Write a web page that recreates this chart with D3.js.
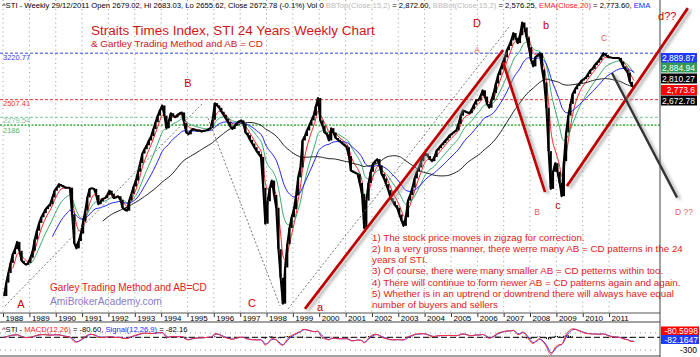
<!DOCTYPE html>
<html><head><meta charset="utf-8">
<script src="https://cdn.jsdelivr.net/npm/d3@7"></script>
<style>body{margin:0;background:#fff}svg{display:block;font-family:"Liberation Sans",Arial,sans-serif}</style>
</head><body><svg id="c" width="700" height="357"></svg>
<script>
// ---------- DATA ----------
const yearLabels = ["1988","1989","1990","1991","1992","1993","1994","1995","1996","1997","1998","1999",
                    "2000","2001","2002","2003","2004","2005","2006","2007","2008","2009","2010","2011"];
// monthly closes of the STI, Jan 1988 .. Dec 2011
const monthlyClose = [
 870, 935, 985,1040,1090,1120,1165,1110,1052,1040,1030,1040,   // 1988
1070,1110,1180,1237,1290,1330,1360,1390,1410,1427,1480,1535,   // 1989
1560,1590,1580,1570,1560,1560,1560,1352,1155,1125,1170,1218,   // 1990
1300,1380,1480,1550,1555,1550,1500,1427,1450,1470,1475,1500,   // 1991
1535,1510,1475,1480,1490,1460,1400,1385,1378,1455,1510,1570,   // 1992
1621,1700,1780,1875,1920,1960,2012,2060,2140,2220,2300,2367,   // 1993
2430,2300,2150,2230,2330,2300,2280,2310,2330,2340,2210,2100,   // 1994
2080,2120,2140,2130,2120,2124,2110,2120,2124,2135,2150,2250,   // 1995
2460,2430,2400,2350,2310,2265,2220,2170,2140,2180,2210,2230,   // 1996
2242,2200,2100,2070,2020,1980,1940,1900,1870,1840,1560,1285,   // 1997
1450,1560,1621,1500,1400,1120, 960, 835,1015,1150,1255,1330,   // 1998
1390,1500,1650,1740,2012,2060,2124,2180,2242,2300,2420,2530,   // 1999
2242,2180,2100,2080,2012,2150,2100,2040,2020,2000,1980,1960,   // 2000
1940,1850,1711,1700,1690,1680,1600,1510,1255,1455,1600,1700,   // 2001
1775,1800,1820,1760,1680,1640,1590,1540,1475,1450,1420,1400,   // 2002
1350,1306,1270,1330,1455,1500,1560,1640,1700,1740,1800,1850,   // 2003
1875,1850,1820,1800,1840,1906,1930,1960,1985,2012,2040,2070,   // 2004
2090,2110,2124,2200,2300,2367,2350,2340,2330,2380,2440,2498,   // 2005
2498,2560,2637,2550,2450,2400,2500,2600,2735,2860,2950,3050,   // 2006
3150,3273,3350,3450,3590,3500,3400,3550,3800,3700,3510,3325,   // 2007
3100,3000,3153,3180,3221,2950,2750,2400,1900,1550,1700,1780,   // 2008
1700,1600,1490,1800,2100,2300,2450,2590,2650,2700,2735,2780,   // 2009
2800,2830,2880,2938,2960,3020,3060,3101,3160,3221,3190,3153,   // 2010
3150,3140,3140,3140,3140,3080,3000,2950,2900,2760,2700,2673    // 2011
];
// horizontal study levels
const levelValues = [3220.77, 2507.41, 2279.54, 2186];
const levelLabels = ["3220.77","2507.41","2279.54","2186"];
const levelColors = ["#3344ee","#ee3333","#77c99a","#55b855"];
// moving averages (weekly periods) and their last values
const maPeriodsWeeks = [20, 50, 100, 200];
const maColors = ["#ff2222","#3aaa6a","#2222ff","#222222"];
const lastValueLabels = ["2,889.87","2,884.94","2,810.27","2,773.6","2,672.78"];
const lastValueColors = ["#1f3bff","#2e9a5c","#000000","#ff0000","#000000"];
const macdLabels = ["-80.5998","-82.1647"];
// drawn study lines: [year, price] -> [year, price]
const dottedLines = [[[1988.08,825],[1995.55,2450]],[[1995.78,2268],[1998.51,825]],[[1998.82,812],[2007.24,3733]]];
const redLines = [[[1999.46,812],[2006.98,3273]],[[2006.98,3067],[2008.57,1523]],[[2009.40,1573],[2013.99,4107]]];
const darkLines = [[[2011.11,2895],[2013.58,1479]]];
// pattern letters: [text, year, price, anchor]
const bigLetters = [["A",1988.68,816,"middle"],["B",1995.02,2686,"middle"],["C",1997.45,820,"middle"],["a",2000.03,803,"middle"],
                    ["D",2005.99,3711,"middle"],["b",2008.61,3672,"middle"],["c",2009.06,1391,"middle"],["d??",2012.86,3855,"start"]];
const smallLetters = [["A",2005.99,3226,"middle"],["C",2010.81,3442,"middle"],["B",2008.27,1347,"middle"],["D ??",2013.50,1347,"start"]];
const notes = ["1) The stock price moves in zigzag for correction.",
 "2) In a very gross manner, there werre many AB = CD patterns in the 24",
 "years of STI.",
 "3) Of course, there were many smaller AB = CD petterns within too.",
 "4) There will continue to form newer AB = CD patterns again and again.",
 "5) Whether is in an uptrend or downtrend there will always have equal",
 "number of buyers and sellers"];

// ---------- LAYOUT ----------
const plotR = 660, priceB = 313, macdT = 322, macdB = 356;
const svg = d3.select("#c");
const defs = svg.append("defs");
defs.append("clipPath").attr("id","pc").append("rect").attr("x",0).attr("y",0).attr("width",plotR).attr("height",priceB);
defs.append("clipPath").attr("id","mc").append("rect").attr("x",0).attr("y",macdT+1).attr("width",plotR).attr("height",macdB-macdT-1);
const flt = defs.append("filter").attr("id","sh").attr("x","-20%").attr("y","-20%").attr("width","140%").attr("height","140%");
flt.append("feDropShadow").attr("dx",3).attr("dy",2).attr("stdDeviation",1.6).attr("flood-color","#999").attr("flood-opacity",0.75);

const x = d3.scaleTime().domain([new Date(1988,0,1), new Date(2012,0,1)]).range([3, 635.4]);
const y = d3.scaleLog().domain([794, 4290]).range([priceB, 0]);
const ym = d3.scaleLinear().domain([-440, 360]).range([macdB, macdT]);
const dates = monthlyClose.map((_, i) => new Date(1988, i, 15));
function yd(yf){ const yr=Math.floor(yf); const s=new Date(yr,0,1), e=new Date(yr+1,0,1); return new Date(+s+(yf-yr)*(e-s)); }
const yearDates = yearLabels.map(s => new Date(+s, 0, 1));

// indicators derived from the closes (weekly periods converted to months)
function ema(arr, n){ const a=2/(n+1); let e=arr[0]; return arr.map((v,i)=> i===0 ? e : (e = a*v+(1-a)*e)); }
function sma(arr, n){ return arr.map((v,i)=> i<n-1 ? null : d3.mean(arr.slice(i-n+1, i+1))); }
const wk = 52/12;
const mas = maPeriodsWeeks.map((p,k) => {
  const n = p/wk, start = Math.round(n);
  const s = k===3 ? sma(monthlyClose, Math.round(n)) : ema(monthlyClose, n);
  return s.map((v,i)=> i < start-1 ? null : v);
});
const e12 = ema(monthlyClose, 12/wk), e26 = ema(monthlyClose, 26/wk);
const macd = e12.map((v,i)=> v - e26[i]);
const signal = ema(macd, 9/wk);

// ---------- GRID ----------
svg.append("g").selectAll("line").data(yearDates).join("line")
  .attr("x1", d=>x(d)).attr("x2", d=>x(d)).attr("y1", 0).attr("y2", priceB)
  .attr("stroke", "#9a9a9a").attr("stroke-width", 1).attr("stroke-dasharray", "1,3.5");

// levels
const lv = svg.append("g");
const labelDy = [6.5, 6.5, 5.5, 7.5];
levelValues.forEach((v,i)=>{
  lv.append("line").attr("x1",0).attr("x2",plotR).attr("y1",y(v)).attr("y2",y(v))
    .attr("stroke",levelColors[i]).attr("stroke-width", i===3?1.6:1).attr("stroke-dasharray", i===3?"2,1.5":"3,2");
  lv.append("text").attr("x",3).attr("y",y(v)+labelDy[i]).attr("font-size",7.5).attr("fill",levelColors[i]).text(levelLabels[i]);
});

// ---------- PRICE ----------
const pg = svg.append("g").attr("clip-path","url(#pc)");
mas.forEach((s,k)=>{
  pg.append("path").datum(s).attr("fill","none").attr("stroke",maColors[k]).attr("stroke-width",1)
    .attr("d", d3.line().defined(d=>d!=null).x((d,i)=>x(dates[i])).y(d=>y(d)).curve(d3.curveMonotoneX));
});
pg.append("g").selectAll("line").data(monthlyClose.slice(1)).join("line")
  .attr("x1",(d,i)=>x(dates[i+1])).attr("x2",(d,i)=>x(dates[i+1]))
  .attr("y1",(d,i)=>y(monthlyClose[i])).attr("y2",d=>y(d)).attr("stroke","#000").attr("stroke-width",2.2);
pg.append("path").datum(monthlyClose).attr("fill","none").attr("stroke","#000").attr("stroke-width",2)
  .attr("stroke-linejoin","round").attr("d", d3.line().x((d,i)=>x(dates[i])).y(d=>y(d)));

// study lines
const sl = svg.append("g");
dottedLines.forEach(l => sl.append("line").attr("x1",x(yd(l[0][0]))).attr("y1",y(l[0][1])).attr("x2",x(yd(l[1][0]))).attr("y2",y(l[1][1]))
  .attr("stroke","#777").attr("stroke-width",1).attr("stroke-dasharray","2,2"));
redLines.forEach(l => sl.append("line").attr("x1",x(yd(l[0][0]))).attr("y1",y(l[0][1])).attr("x2",x(yd(l[1][0]))).attr("y2",y(l[1][1]))
  .attr("stroke","#c00000").attr("stroke-width",2.8).attr("filter","url(#sh)"));
darkLines.forEach(l => sl.append("line").attr("x1",x(yd(l[0][0]))).attr("y1",y(l[0][1])).attr("x2",x(yd(l[1][0]))).attr("y2",y(l[1][1]))
  .attr("stroke","#333").attr("stroke-width",2.4).attr("filter","url(#sh)"));

// letters
bigLetters.forEach(d => svg.append("text").attr("x",x(yd(d[1]))).attr("y",y(d[2])).attr("text-anchor",d[3])
  .attr("font-size",11).attr("fill","#c00").text(d[0]));
smallLetters.forEach(d => svg.append("text").attr("x",x(yd(d[1]))).attr("y",y(d[2])).attr("text-anchor",d[3])
  .attr("font-size",8.5).attr("fill","#e86060").text(d[0]));

// ---------- TEXTS ----------
function fit(sel, w){ const L = sel.node().getComputedTextLength(); sel.attr("font-size", parseFloat(sel.attr("font-size"))*w/L); return sel; }
const leg = svg.append("text").attr("x",2).attr("y",8).attr("font-size",8).attr("fill","#000");
[["^STI - Weekly 29/12/2011 Open 2679.02, Hi 2683.03, Lo 2655.62, Close 2672.78 (-0.1%) Vol 0 ","#000"],
 ["BBTop(Close,15,2) ","#bbb"],["= 2,872.60, ","#000"],["BBBot(Close,15,2) ","#bbb"],["= 2,576.25, ","#000"],
 ["EMA(Close,20) ","#ff2020"],["= 2,773.60, ","#000"],["EMA","#2222ff"]]
 .forEach(t => leg.append("tspan").attr("fill",t[1]).text(t[0]));
fit(leg, 650);

fit(svg.append("text").attr("x",91).attr("y",35).attr("font-size",14).attr("fill","#d01515")
  .text("Straits Times Index, STI 24 Years Weekly Chart"), 284);
fit(svg.append("text").attr("x",91).attr("y",46.5).attr("font-size",10.5).attr("fill","#d01515")
  .text("& Gartley Trading Method and AB = CD"), 172);
fit(svg.append("text").attr("x",50).attr("y",291).attr("font-size",10.5).attr("fill","#e02020")
  .text("Garley Trading Method and AB=CD"), 157);
fit(svg.append("text").attr("x",50).attr("y",304.5).attr("font-size",10.5).attr("fill","#8a7cc8")
  .text("AmiBrokerAcademy.com"), 112);

const nt = svg.append("g");
const probe = nt.append("text").attr("font-size",10).text(notes[1]);
const nfs = 10*311/probe.node().getComputedTextLength(); probe.remove();
notes.forEach((s,i)=> nt.append("text").attr("x",372).attr("y",240.5+i*11.3).attr("font-size",nfs).attr("fill","#e02020").text(s));

// ---------- AXIS ----------
const ax = svg.append("g").attr("transform",`translate(0,${priceB})`)
  .call(d3.axisBottom(x).tickValues(yearDates).tickFormat((d,i)=>yearLabels[i]).tickSize(4));
ax.select(".domain").remove();
ax.selectAll(".tick line").attr("stroke","#333");
ax.selectAll(".tick text").attr("text-anchor","start").attr("x",2).attr("y",0).attr("dy",7.5)
  .attr("font-size",8).attr("fill","#000").attr("font-family","Liberation Sans, Arial, sans-serif");
svg.append("line").attr("x1",0).attr("x2",plotR).attr("y1",priceB).attr("y2",priceB).attr("stroke","#555");
svg.append("line").attr("x1",0).attr("x2",plotR).attr("y1",macdT).attr("y2",macdT).attr("stroke","#444").attr("stroke-width",1.2);
svg.append("line").attr("x1",0).attr("x2",plotR).attr("y1",macdB).attr("y2",macdB).attr("stroke","#444");
svg.append("line").attr("x1",plotR).attr("x2",plotR).attr("y1",0).attr("y2",357).attr("stroke","#444");

// ---------- LAST VALUE BOXES ----------
lastValueLabels.forEach((s,i)=>{
  const cy = [58,67.5,78.5,90,100.5][i];
  svg.append("rect").attr("x",661).attr("y",cy-5).attr("width",36).attr("height",10).attr("fill",lastValueColors[i]);
  svg.append("text").attr("x",695).attr("y",cy+3).attr("text-anchor","end").attr("font-size",8.5).attr("fill","#fff").text(s);
});

// ---------- MACD ----------
const mg = svg.append("g").attr("clip-path","url(#mc)");
[100,-300].forEach(v => mg.append("line").attr("x1",0).attr("x2",plotR).attr("y1",ym(v)).attr("y2",ym(v))
  .attr("stroke","#999").attr("stroke-dasharray","1,4"));
mg.append("line").attr("x1",0).attr("x2",plotR).attr("y1",ym(0)).attr("y2",ym(0)).attr("stroke","#000").attr("stroke-dasharray","6,3");
mg.append("g").selectAll("line").data(macd).join("line")
  .attr("x1",(d,i)=>x(dates[i])).attr("x2",(d,i)=>x(dates[i])).attr("y1",ym(0)).attr("y2",(d,i)=>ym(d-signal[i]))
  .attr("stroke","#000").attr("stroke-width",1.2);
mg.append("path").datum(signal).attr("fill","none").attr("stroke","#3333ff").attr("stroke-width",1)
  .attr("d", d3.line().x((d,i)=>x(dates[i])).y(d=>ym(d)).curve(d3.curveMonotoneX));
mg.append("path").datum(macd).attr("fill","none").attr("stroke","#ff3030").attr("stroke-width",1)
  .attr("d", d3.line().x((d,i)=>x(dates[i])).y(d=>ym(d)).curve(d3.curveMonotoneX));
const mt = svg.append("text").attr("x",2).attr("y",332).attr("font-size",8).attr("fill","#000");
[["^STI - ","#000"],["MACD(12,26)","#ff2020"],[" = -80.60, ","#000"],["Signal(12,26,9)","#2222ff"],[" = -82.16","#000"]]
  .forEach(t => mt.append("tspan").attr("fill",t[1]).text(t[0]));
fit(mt, 186);
macdLabels.forEach((s,i)=>{
  const cy = [331,339.5][i];
  svg.append("rect").attr("x",661).attr("y",cy-4.5).attr("width",38).attr("height",9).attr("fill",i?"#1f3bff":"#ff0000");
  svg.append("text").attr("x",698).attr("y",cy+3).attr("text-anchor","end").attr("font-size",8.5).attr("fill","#fff").text(s);
});
svg.append("text").attr("x",697).attr("y",353).attr("text-anchor","end").attr("font-size",8.5).attr("fill","#000").text("-300");
</script></body></html>
